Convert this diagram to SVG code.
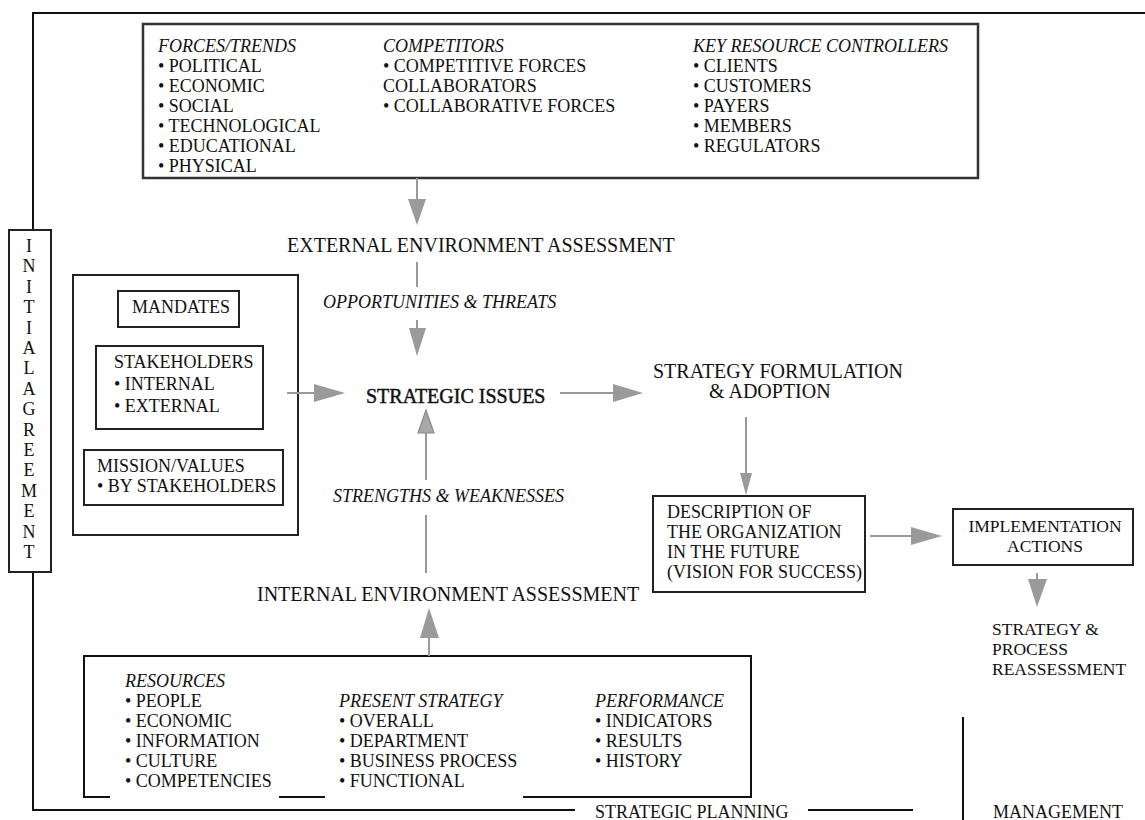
<svg xmlns="http://www.w3.org/2000/svg" width="1145" height="820" viewBox="0 0 1145 820">
  <style>
    text { font-family: "Liberation Serif", "Times New Roman", serif; fill: #111; }
    .t18 { font-size: 18px; }
    .t17 { font-size: 17.5px; }
    .head { font-size: 20px; }
    .heavy { stroke: #111; stroke-width: 0.45; }
    .it { font-style: italic; }
    .frame { fill: none; stroke: #111; stroke-width: 2; }
    .box { fill: #fff; stroke: #222; stroke-width: 2; }
    .topbox { fill: #fff; stroke: #333; stroke-width: 2.5; }
    .conn { fill: none; stroke: #9a9a9a; stroke-width: 2; }
    .head-fill { fill: #9a9a9a; stroke: none; }
    .head-open { fill: #a8a8a8; stroke: #8a8a8a; stroke-width: 1.2; }
  </style>
  <rect width="1145" height="820" fill="#fff"/>

  <!-- outer planning frame -->
  <g id="frame">
    <path class="frame" d="M1145 13 H33 V230"/>
    <path class="frame" d="M33 572 V810 H575"/>
    <path class="frame" d="M808 810 H913"/>
    <path class="frame" d="M963 717 V820"/>
    <text class="t18" x="595" y="818">STRATEGIC PLANNING</text>
    <text class="t18" x="993" y="818">MANAGEMENT</text>
  </g>

  <!-- vertical initial agreement label -->
  <g id="initial-agreement">
    <rect class="box" x="9" y="230" width="42" height="342"/>
    <g class="t18" text-anchor="middle">
      <text x="29" y="252">I</text>
      <text x="29" y="272.4">N</text>
      <text x="29" y="292.8">I</text>
      <text x="29" y="313.2">T</text>
      <text x="29" y="333.6">I</text>
      <text x="29" y="354">A</text>
      <text x="29" y="374.4">L</text>
      <text x="29" y="394.8">A</text>
      <text x="29" y="415.2">G</text>
      <text x="29" y="435.6">R</text>
      <text x="29" y="456">E</text>
      <text x="29" y="476.4">E</text>
      <text x="29" y="496.8">M</text>
      <text x="29" y="517.2">E</text>
      <text x="29" y="537.6">N</text>
      <text x="29" y="558">T</text>
    </g>
  </g>

  <!-- external factors -->
  <g id="external-factors">
    <rect class="topbox" x="143" y="24" width="835" height="154"/>
    <g class="t18">
      <text class="it" x="158" y="52">FORCES/TRENDS</text>
      <text x="158" y="72">• POLITICAL</text>
      <text x="158" y="92">• ECONOMIC</text>
      <text x="158" y="112">• SOCIAL</text>
      <text x="158" y="132">• TECHNOLOGICAL</text>
      <text x="158" y="152">• EDUCATIONAL</text>
      <text x="158" y="172">• PHYSICAL</text>
      <text class="it" x="383" y="52">COMPETITORS</text>
      <text x="383" y="72">• COMPETITIVE FORCES</text>
      <text x="383" y="92">COLLABORATORS</text>
      <text x="383" y="112">• COLLABORATIVE FORCES</text>
      <text class="it" x="693" y="52">KEY RESOURCE CONTROLLERS</text>
      <text x="693" y="72">• CLIENTS</text>
      <text x="693" y="92">• CUSTOMERS</text>
      <text x="693" y="112">• PAYERS</text>
      <text x="693" y="132">• MEMBERS</text>
      <text x="693" y="152">• REGULATORS</text>
    </g>
  </g>

  <g id="external-assessment">
    <text class="head" x="287" y="252">EXTERNAL ENVIRONMENT ASSESSMENT</text>
  </g>

  <g id="opportunities-threats">
    <text class="t18 it" x="323" y="308">OPPORTUNITIES &amp; THREATS</text>
  </g>

  <!-- mandates / stakeholders / mission -->
  <g id="organization-givens">
    <rect class="box" x="73" y="275" width="225" height="260"/>
    <g id="mandates">
      <rect class="box" x="118" y="291" width="121" height="36"/>
      <text class="t18" x="132" y="313">MANDATES</text>
    </g>
    <g id="stakeholders">
      <rect class="box" x="96" y="346" width="167" height="83"/>
      <text class="t18" x="114" y="368">STAKEHOLDERS</text>
      <text class="t18" x="114" y="390">• INTERNAL</text>
      <text class="t18" x="114" y="412">• EXTERNAL</text>
    </g>
    <g id="mission-values">
      <rect class="box" x="84" y="450" width="199" height="55"/>
      <text class="t18" x="97" y="472">MISSION/VALUES</text>
      <text class="t18" x="97" y="492">• BY STAKEHOLDERS</text>
    </g>
  </g>

  <g id="strategic-issues">
    <text class="head heavy" x="366" y="403">STRATEGIC ISSUES</text>
  </g>

  <g id="strategy-formulation">
    <text class="head" x="653" y="378">STRATEGY FORMULATION</text>
    <text class="head" x="709" y="398">&amp; ADOPTION</text>
  </g>

  <g id="strengths-weaknesses">
    <text class="t18 it" x="333" y="502">STRENGTHS &amp; WEAKNESSES</text>
  </g>

  <g id="internal-assessment">
    <text class="head" x="257" y="601">INTERNAL ENVIRONMENT ASSESSMENT</text>
  </g>

  <g id="vision">
    <rect class="box" x="653" y="496" width="212" height="96"/>
    <text class="t18" x="667" y="518">DESCRIPTION OF</text>
    <text class="t18" x="667" y="538">THE ORGANIZATION</text>
    <text class="t18" x="667" y="558">IN THE FUTURE</text>
    <text class="t18" x="667" y="578">(VISION FOR SUCCESS)</text>
  </g>

  <g id="implementation">
    <rect class="box" x="953" y="509" width="180" height="56"/>
    <text class="t17" x="1045" y="532" text-anchor="middle">IMPLEMENTATION</text>
    <text class="t17" x="1045" y="552" text-anchor="middle">ACTIONS</text>
  </g>

  <g id="reassessment">
    <text class="t17" x="992" y="635">STRATEGY &amp;</text>
    <text class="t17" x="992" y="655">PROCESS</text>
    <text class="t17" x="992" y="675">REASSESSMENT</text>
  </g>

  <!-- internal factors -->
  <g id="internal-factors">
    <path class="frame" d="M110 797 H84 V656 H751 V797 H523"/>
    <path class="frame" d="M279 797 H325"/>
    <g class="t18">
      <text class="it" x="125" y="687">RESOURCES</text>
      <text x="125" y="707">• PEOPLE</text>
      <text x="125" y="727">• ECONOMIC</text>
      <text x="125" y="747">• INFORMATION</text>
      <text x="125" y="767">• CULTURE</text>
      <text x="125" y="787">• COMPETENCIES</text>
      <text class="it" x="339" y="707">PRESENT STRATEGY</text>
      <text x="339" y="727">• OVERALL</text>
      <text x="339" y="747">• DEPARTMENT</text>
      <text x="339" y="767">• BUSINESS PROCESS</text>
      <text x="339" y="787">• FUNCTIONAL</text>
      <text class="it" x="595" y="707">PERFORMANCE</text>
      <text x="595" y="727">• INDICATORS</text>
      <text x="595" y="747">• RESULTS</text>
      <text x="595" y="767">• HISTORY</text>
    </g>
  </g>

  <!-- connectors -->
  <g id="connectors">
    <!-- external factors to external assessment -->
    <path class="conn" d="M417 178 V200"/>
    <polygon class="head-fill" points="408,199 426,199 417,225"/>
    <!-- external assessment to strategic issues -->
    <path class="conn" d="M417 262 V287"/>
    <path class="conn" d="M417 320 V330"/>
    <polygon class="head-fill" points="409,328 426,328 417,356"/>
    <!-- givens to strategic issues -->
    <path class="conn" d="M287 393 H316"/>
    <polygon class="head-fill" points="314,384 314,402 345,393"/>
    <!-- strategic issues to formulation -->
    <path class="conn" d="M560 393 H616"/>
    <polygon class="head-fill" points="613,384 613,402 643,393"/>
    <!-- formulation to vision -->
    <path class="conn" d="M746 417 V475"/>
    <polygon class="head-fill" points="740,473 752,473 746,495"/>
    <!-- vision to implementation -->
    <path class="conn" d="M870 536 H913"/>
    <polygon class="head-fill" points="911,527 911,545 942,536"/>
    <!-- implementation to reassessment -->
    <path class="conn" d="M1037 573 V581"/>
    <polygon class="head-fill" points="1028,579 1047,579 1037,607"/>
    <!-- internal assessment to strategic issues -->
    <path class="conn" d="M426 573 V515"/>
    <path class="conn" d="M426 480 V431"/>
    <polygon class="head-open" points="418,433 434,433 426,410"/>
    <!-- internal factors to internal assessment -->
    <path class="conn" d="M429 656 V636"/>
    <polygon class="head-fill" points="420,638 439,638 429,608"/>
  </g>
</svg>
